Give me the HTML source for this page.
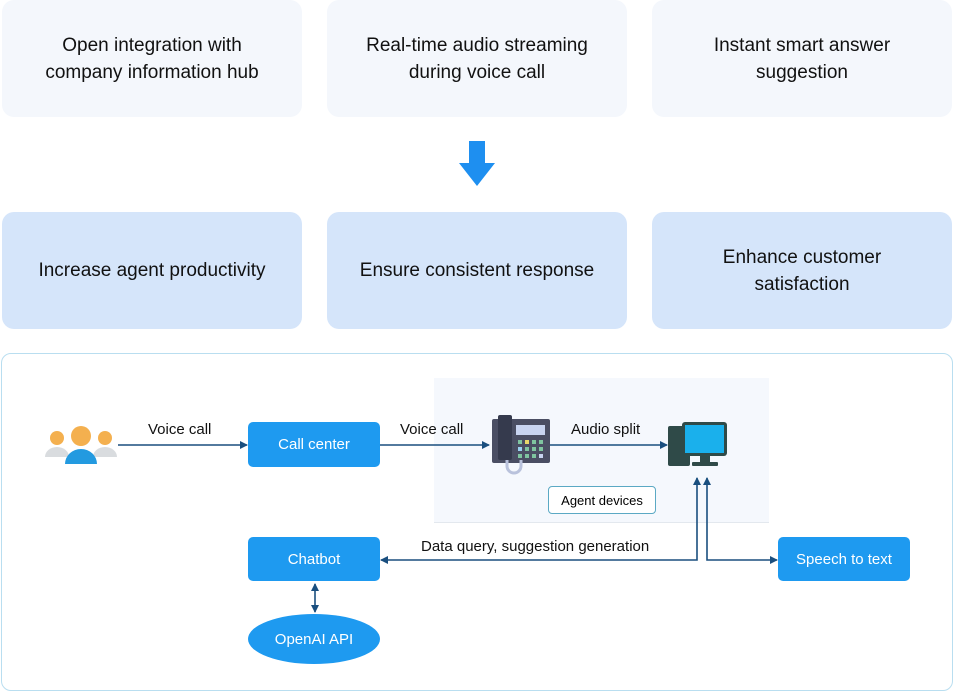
<!DOCTYPE html>
<html><head><style>
body{margin:0;width:954px;height:691px;background:#fff;font-family:"Liberation Sans",sans-serif;position:relative;overflow:hidden}
.b{position:absolute;border-radius:12px;display:flex;align-items:center;justify-content:center;text-align:center;font-size:19px;color:#111;line-height:27px}
.t{background:#f4f7fc}
.m{background:#d5e5fa}
.n{position:absolute;background:#1e9af0;color:#fff;border-radius:5px;display:flex;align-items:center;justify-content:center;font-size:15px}
.l{position:absolute;font-size:15px;color:#111}
</style></head><body>
<div class="b t" style="left:2px;top:0;width:300px;height:117px">Open integration with<br>company information hub</div>
<div class="b t" style="left:327px;top:0;width:300px;height:117px">Real-time audio streaming<br>during voice call</div>
<div class="b t" style="left:652px;top:0;width:300px;height:117px">Instant smart answer<br>suggestion</div>
<svg style="position:absolute;left:458px;top:141px" width="38" height="46"><polygon points="11,0 27,0 27,22 37,22 19,45 1,22 11,22" fill="#1e8ff0"/></svg>
<div class="b m" style="left:2px;top:212px;width:300px;height:117px">Increase agent productivity</div>
<div class="b m" style="left:327px;top:212px;width:300px;height:117px">Ensure consistent response</div>
<div class="b m" style="left:652px;top:212px;width:300px;height:117px">Enhance customer<br>satisfaction</div>
<div style="position:absolute;left:1px;top:353px;width:950px;height:336px;border:1px solid #b9def0;border-radius:10px"></div>
<div style="position:absolute;left:434px;top:378px;width:335px;height:144px;background:#f5f8fd;border-bottom:1px solid #e3e8ee"></div>
<svg style="position:absolute;left:0;top:0" width="954" height="691">
<defs><marker id="a" markerWidth="8" markerHeight="8" refX="7" refY="4" orient="auto-start-reverse" markerUnits="userSpaceOnUse"><polygon points="0,0 8,4 0,8" fill="#1a4f7f"/></marker></defs>
<g stroke="#1a4f7f" stroke-width="1.6" fill="none">
<line x1="118" y1="445" x2="247" y2="445" marker-end="url(#a)"/>
<line x1="380" y1="445" x2="489" y2="445" marker-end="url(#a)"/>
<line x1="550" y1="445" x2="667" y2="445" marker-end="url(#a)"/>
<polyline points="697,478 697,560 381,560" marker-start="url(#a)" marker-end="url(#a)"/>
<polyline points="707,478 707,560 777,560" marker-start="url(#a)" marker-end="url(#a)"/>
<line x1="315" y1="584" x2="315" y2="612" marker-start="url(#a)" marker-end="url(#a)"/>
</g>
<circle cx="57" cy="438" r="7" fill="#f4b04f"/><path d="M45,457 a12,10 0 0 1 24,0z" fill="#d9dcdf"/>
<circle cx="105" cy="438" r="7" fill="#f4b04f"/><path d="M93,457 a12,10 0 0 1 24,0z" fill="#d9dcdf"/>
<circle cx="81" cy="436" r="10" fill="#f4b04f"/><path d="M65,464 a16,15 0 0 1 32,0z" fill="#239ae0"/>
<rect x="492" y="419" width="58" height="44" rx="2" fill="#4a4e63"/><rect x="498" y="415" width="14" height="45" rx="2" fill="#353a4d"/>
<rect x="516" y="425" width="29" height="10" fill="#c8d4f0"/>
<path d="M507,460 v6 a7,7 0 0 0 14,0 v-6" stroke="#b9c2dc" stroke-width="3" fill="none"/>
<g fill="#7fc4a0"><rect x="518" y="440" width="4" height="4"/><rect x="525" y="440" width="4" height="4" fill="#e8d86a"/><rect x="532" y="440" width="4" height="4"/><rect x="539" y="440" width="4" height="4"/><rect x="518" y="447" width="4" height="4" fill="#9ad0f0"/><rect x="525" y="447" width="4" height="4"/><rect x="532" y="447" width="4" height="4"/><rect x="539" y="447" width="4" height="4"/><rect x="518" y="454" width="4" height="4"/><rect x="525" y="454" width="4" height="4"/><rect x="532" y="454" width="4" height="4"/><rect x="539" y="454" width="4" height="4" fill="#c8d4f0"/></g>
<rect x="668" y="426" width="22" height="40" rx="2" fill="#2f4a48"/>
<rect x="682" y="422" width="45" height="34" rx="3" fill="#2f4a48"/><rect x="685" y="425" width="39" height="28" fill="#1ab0ec"/>
<rect x="700" y="456" width="10" height="7" fill="#2f4a48"/><rect x="692" y="462" width="26" height="4" rx="1" fill="#2f4a48"/>
<ellipse cx="314" cy="639" rx="66" ry="25" fill="#1e9af0"/>
<text x="314" y="644" text-anchor="middle" fill="#fff" font-size="15" font-family="Liberation Sans">OpenAI API</text>
</svg>
<div class="n" style="left:248px;top:422px;width:132px;height:45px">Call center</div>
<div class="n" style="left:248px;top:537px;width:132px;height:44px">Chatbot</div>
<div class="n" style="left:778px;top:537px;width:132px;height:44px">Speech to text</div>
<div style="position:absolute;left:548px;top:486px;width:106px;height:26px;border:1px solid #5ba9c4;border-radius:4px;background:#fff;font-size:13px;display:flex;align-items:center;justify-content:center">Agent devices</div>
<div class="l" style="left:148px;top:421px">Voice call</div>
<div class="l" style="left:400px;top:421px">Voice call</div>
<div class="l" style="left:571px;top:421px">Audio split</div>
<div class="l" style="left:421px;top:538px">Data query, suggestion generation</div>
</body></html>
